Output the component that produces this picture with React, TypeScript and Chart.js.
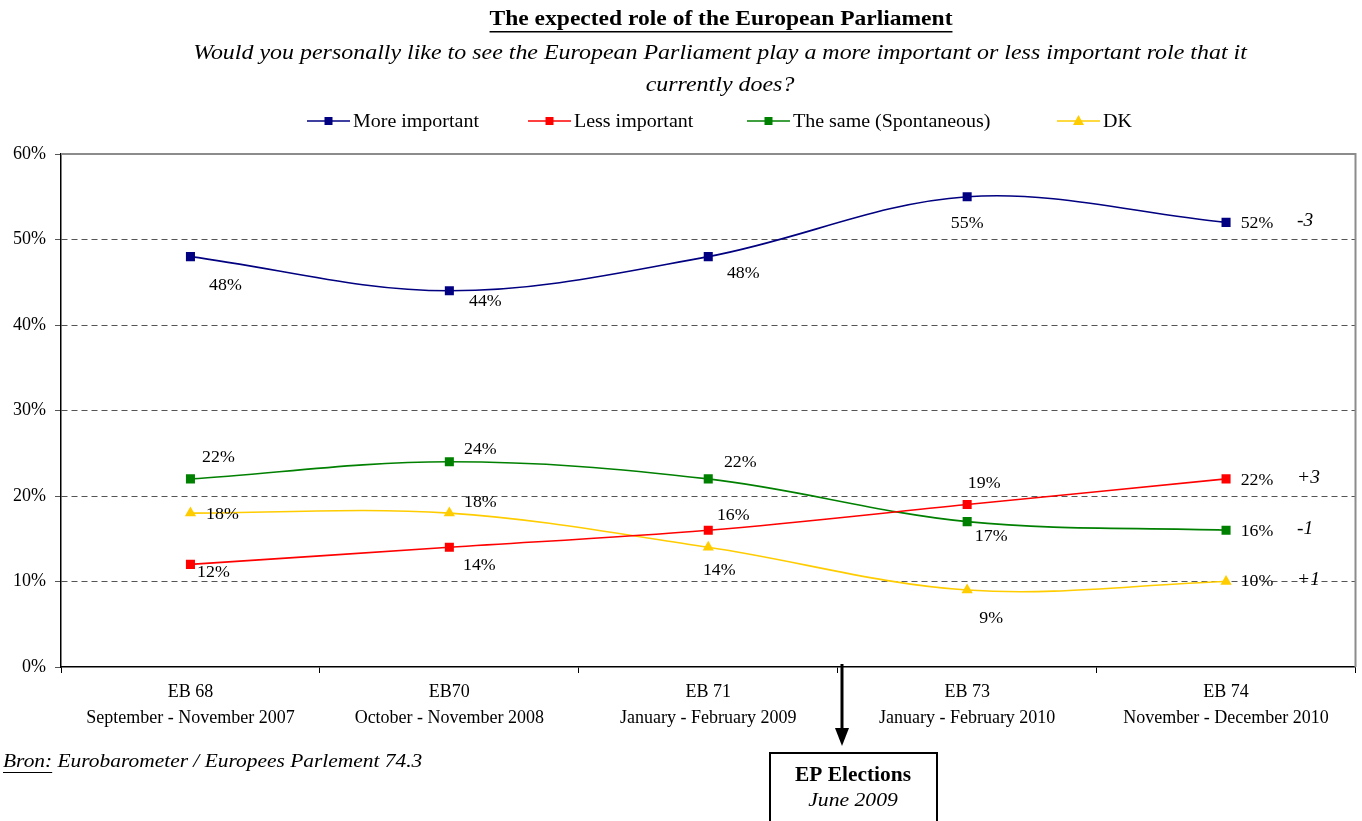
import React, { useEffect, useRef } from "react";
import { Chart, registerables } from "chart.js";

Chart.register(...registerables);

const waves = ["EB 68", "EB70", "EB 71", "EB 73", "EB 74"];
const periods = [
  "September - November 2007",
  "October - November 2008",
  "January - February 2009",
  "January - February 2010",
  "November - December 2010",
];
const moreImportant = [48, 44, 48, 55, 52];
const lessImportant = [12, 14, 16, 19, 22];
const theSame = [22, 24, 22, 17, 16];
const dontKnow = [18, 18, 14, 9, 10];
const yTicks = [0, 10, 20, 30, 40, 50, 60];

const TITLE = "The expected role of the European Parliament";
const SUB1 = "Would you personally like to see the European Parliament play a more important or less important role that it";
const SUB2 = "currently does?";
const SOURCE_U = "Bron:";
const SOURCE_T = " Eurobarometer / Europees Parlement 74.3";
const EVENT_TITLE = "EP Elections";
const EVENT_SUB = "June 2009";

const SERIF = "'Liberation Serif', 'Times New Roman', serif";

// label offsets (styling) relative to each point
const labelOffsets: number[][][] = [
  [[35, 29], [36, 11], [35, 17], [0, 27], [31, 1]],
  [[23, 8], [30, 18], [25, -15], [17, -21], [31, 2]],
  [[28, -21], [31, -12], [32, -16], [24, 15], [31, 1]],
  [[32, 1], [31, -11], [11, 23], [24, 28], [31, 0]],
];
const legendX = [307, 528, 747, 1057];

function sText(ctx: CanvasRenderingContext2D, text: string, x: number, y: number, sx: number, align: CanvasTextAlign) {
  ctx.save();
  ctx.translate(x, y);
  ctx.scale(sx, 1);
  ctx.textAlign = align;
  ctx.fillText(text, 0, 0);
  const w = ctx.measureText(text).width * sx;
  ctx.restore();
  return w;
}

const overlay = {
  id: "overlay",
  afterDraw(chart: any) {
    const ctx: CanvasRenderingContext2D = chart.ctx;
    const area = chart.chartArea;
    ctx.save();
    // top and right plot border
    ctx.strokeStyle = "#8c8c8c";
    ctx.lineWidth = 2;
    ctx.beginPath();
    ctx.moveTo(area.left, area.top);
    ctx.lineTo(area.right, area.top);
    ctx.lineTo(area.right, area.bottom);
    ctx.stroke();

    ctx.fillStyle = "#000";
    ctx.textBaseline = "middle";
    // title
    ctx.font = `bold 21px ${SERIF}`;
    const tw = sText(ctx, TITLE, 721, 20, 1.12, "center");
    ctx.fillRect(721 - tw / 2, 31, tw, 1.5);
    ctx.font = `italic 21px ${SERIF}`;
    sText(ctx, SUB1, 720, 53, 1.14, "center");
    sText(ctx, SUB2, 720, 85, 1.14, "center");

    // legend
    ctx.font = `18px ${SERIF}`;
    chart.data.datasets.forEach((ds: any, i: number) => {
      const x0 = legendX[i];
      const y = 121;
      ctx.strokeStyle = ds.borderColor;
      ctx.lineWidth = 1.5;
      ctx.beginPath();
      ctx.moveTo(x0, y);
      ctx.lineTo(x0 + 43, y);
      ctx.stroke();
      ctx.fillStyle = ds.borderColor;
      const cx = x0 + 21.5;
      if (ds.pointStyle === "triangle") {
        ctx.beginPath();
        ctx.moveTo(cx, y - 6);
        ctx.lineTo(cx + 5.5, y + 4);
        ctx.lineTo(cx - 5.5, y + 4);
        ctx.closePath();
        ctx.fill();
      } else {
        ctx.fillRect(cx - 4, y - 4, 8, 8);
      }
      ctx.fillStyle = "#000";
      sText(ctx, ds.label, x0 + 46, y + 1, 1.11, "left");
    });

    // data labels + deltas
    ctx.font = `17px ${SERIF}`;
    chart.data.datasets.forEach((ds: any, i: number) => {
      const meta = chart.getDatasetMeta(i);
      meta.data.forEach((pt: any, j: number) => {
        const off = labelOffsets[i][j];
        sText(ctx, ds.data[j] + "%", pt.x + off[0], pt.y + off[1], 1.05, "center");
      });
      const n = ds.data.length;
      const d = ds.data[n - 1] - ds.data[n - 2];
      const last = meta.data[n - 1];
      ctx.save();
      ctx.font = `italic 18px ${SERIF}`;
      sText(ctx, (d > 0 ? "+" : "") + d, last.x + 71, last.y - 1, 1.08, "left");
      ctx.restore();
    });

    // event arrow
    const ax = 842;
    ctx.strokeStyle = "#000";
    ctx.fillStyle = "#000";
    ctx.lineWidth = 3;
    ctx.beginPath();
    ctx.moveTo(ax, area.bottom - 3);
    ctx.lineTo(ax, 729);
    ctx.stroke();
    ctx.beginPath();
    ctx.moveTo(ax - 7, 728);
    ctx.lineTo(ax + 7, 728);
    ctx.lineTo(ax, 746);
    ctx.closePath();
    ctx.fill();
    ctx.lineWidth = 2;
    ctx.strokeRect(770, 753, 167, 80);
    ctx.font = `bold 20px ${SERIF}`;
    sText(ctx, EVENT_TITLE, 853, 776, 1.07, "center");
    ctx.font = `italic 19px ${SERIF}`;
    sText(ctx, EVENT_SUB, 853, 801, 1.14, "center");

    // source
    ctx.font = `italic 18px ${SERIF}`;
    const uw = sText(ctx, SOURCE_U, 3, 762, 1.19, "left");
    ctx.fillRect(3, 772, uw, 1);
    sText(ctx, SOURCE_T, 3 + uw, 762, 1.19, "left");
    ctx.restore();
  },
};

export default function App() {
  const ref = useRef<HTMLCanvasElement>(null);
  useEffect(() => {
    document.body.style.margin = "0";
    const mk = (label: string, data: number[], color: string, style: string, r: number) => ({
      label,
      data,
      borderColor: color,
      backgroundColor: color,
      borderWidth: 1.6,
      pointStyle: style,
      pointRadius: r,
      pointBorderWidth: 0,
      tension: 0.35,
      fill: false,
    });
    const chart = new Chart(ref.current!, {
      type: "line",
      data: {
        labels: waves.map((w, i) => [w, periods[i]]),
        datasets: [
          mk("More important", moreImportant, "#000080", "rect", 6.4),
          mk("Less important", lessImportant, "#ff0000", "rect", 6.4),
          mk("The same (Spontaneous)", theSame, "#008000", "rect", 6.4),
          mk("DK", dontKnow, "#ffcc00", "triangle", 6.5),
        ] as any,
      },
      options: {
        animation: false,
        responsive: false,
        layout: { padding: { left: 0, right: 4, top: 154, bottom: 0 } },
        plugins: { legend: { display: false }, title: { display: false }, tooltip: { enabled: false } },
        scales: {
          x: {
            offset: true,
            grid: { drawOnChartArea: false, drawTicks: true, tickLength: 6, offset: true, color: "#000", tickColor: "#000" },
            border: { color: "#000", width: 1.5 },
            ticks: {
              color: "#000",
              font: { family: SERIF, size: 18, lineHeight: 1.45 },
              maxRotation: 0,
              autoSkip: false,
              padding: 6,
            },
            afterFit: (s: any) => {
              s.height = 154;
            },
          },
          y: {
            min: 0,
            max: 60,
            afterBuildTicks: (s: any) => {
              s.ticks = yTicks.map((v) => ({ value: v }));
            },
            grid: {
              color: (c: any) => (c.tick && (c.tick.value === 0 || c.tick.value === 60) ? "rgba(0,0,0,0)" : "#555"),
              tickColor: "#555",
              tickLength: 6,
              lineWidth: 1,
            },
            border: { color: "#000", width: 1.5, dash: [6, 4] },
            ticks: {
              color: "#000",
              font: { family: SERIF, size: 18 },
              padding: 9,
              callback: (v: any) => v + "%",
            },
            afterFit: (s: any) => {
              s.width = 61;
            },
          },
        },
      },
      plugins: [overlay],
    });
    return () => chart.destroy();
  }, []);
  return <canvas ref={ref} width={1362} height={821} style={{ display: "block" }} />;
}
